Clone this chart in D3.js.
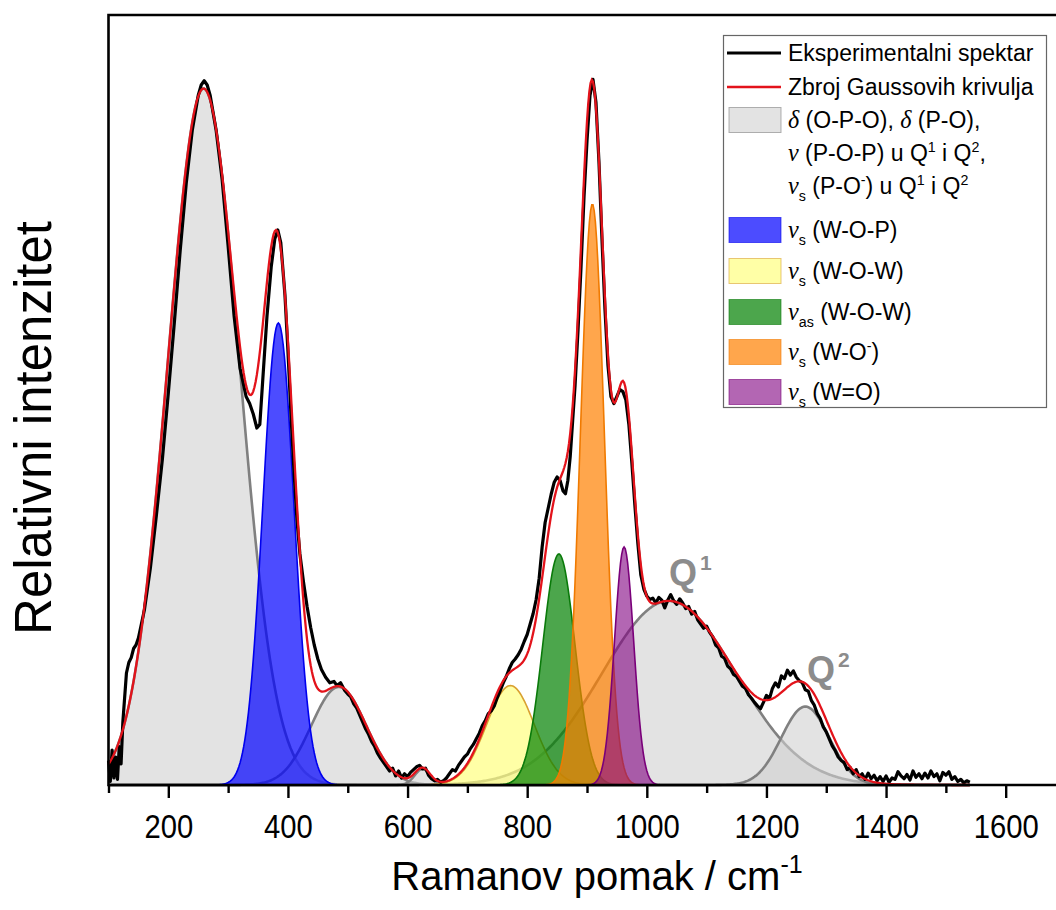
<!DOCTYPE html>
<html><head><meta charset="utf-8">
<script src="https://cdn.jsdelivr.net/npm/d3@7"></script>
<style>
body{margin:0;background:#fff}
svg{display:block}
text{font-family:"Liberation Sans", Arial, sans-serif}
</style>
</head><body>
<svg id="chart" width="1056" height="910"></svg>
<script>
// ---------------- data ----------------
const xMajorTicks = [200, 400, 600, 800, 1000, 1200, 1400, 1600];
const xMinorTicks = [100, 300, 500, 700, 900, 1100, 1300, 1500, 1700];

// Gaussian components: centre (cm-1), height (rel.), sigma (cm-1)
const peakNames   = ["G1", "WOP", "G2", "G3", "WOWs", "WOWas", "WO-", "W=O", "Q1", "Q2"];
const peakCenters = [259, 384, 485, 625, 772, 853, 909, 962, 1037, 1265];
const peakHeights = [99.5, 66, 14, 2.3, 14.2, 33, 83, 34, 26.3, 11.2];
const peakSigmas  = [60, 26, 46, 13, 40, 27, 20, 16, 112, 40];

const expShift = [100,103,106,109,112,115,118,121,124,127,130,134,138,142,146,150,155,160,170,180,190,200,210,220,230,240,250,255,260,265,270,280,290,300,310,320,330,336,342,348,353,358,365,372,378,383,388,395,400,405,410,415,420,426,432,438,444,450,456,463,470,477,482,488,495,500,505,510,515,520,525,530,535,540,545,550,555,560,565,570,575,580,585,590,595,600,605,610,615,620,625,630,635,640,645,650,655,660,665,670,675,680,685,690,695,700,705,710,715,720,725,730,735,740,745,750,755,760,765,770,775,780,785,790,795,800,805,810,815,820,825,830,835,840,845,850,855,860,864,868,872,876,880,885,890,895,900,905,910,915,920,925,930,935,940,945,950,955,960,965,970,975,980,985,990,995,1000,1005,1010,1015,1020,1025,1030,1035,1040,1045,1050,1055,1060,1065,1070,1075,1080,1085,1090,1095,1100,1105,1110,1115,1120,1125,1130,1135,1140,1145,1150,1155,1160,1165,1170,1175,1180,1185,1190,1195,1200,1205,1210,1215,1220,1225,1230,1235,1240,1245,1250,1255,1260,1265,1270,1275,1280,1285,1290,1295,1300,1305,1310,1315,1320,1325,1330,1335,1340,1345,1350,1355,1360,1365,1370,1375,1380,1385,1390,1395,1400,1405,1410,1415,1420,1425,1430,1435,1440,1445,1450,1455,1460,1465,1470,1475,1480,1485,1490,1495,1500,1505,1510,1515,1520,1525,1530,1535,1540];
const expIntensity = [3.5,0.5,5.0,1.0,4.0,0.8,5.5,3.0,9.0,12.5,16.0,17.5,18.2,19.5,20.0,21.0,23.0,25.0,31.0,38.5,46.5,56.0,66.0,76.5,86.0,93.5,98.5,100.0,100.6,100.0,98.5,93.5,86.5,77.0,67.0,59.5,55.5,54.5,53.0,51.0,51.5,58.0,67.0,74.0,78.0,79.3,77.5,70.0,62.0,53.0,45.0,38.0,33.0,29.0,25.5,22.5,20.0,18.0,16.5,15.4,14.6,14.8,14.2,14.6,13.5,13.0,12.6,11.6,11.0,10.0,9.0,8.0,7.2,6.2,5.5,4.5,3.8,3.2,2.6,2.0,2.4,1.3,2.0,1.0,1.6,1.2,1.8,2.2,2.6,2.8,2.3,2.4,1.4,0.9,0.6,0.8,0.4,0.6,1.0,1.6,2.2,2.0,2.8,3.4,4.0,4.4,5.2,5.8,6.6,7.4,8.5,9.2,10.2,10.6,11.3,12.5,13.5,14.6,15.5,16.6,17.5,18.0,18.6,19.4,20.5,21.5,23.0,24.5,26.5,29.5,34.0,37.5,39.5,41.5,43.2,44.0,43.5,42.0,41.6,43.5,47.0,52.0,57.0,65.0,74.0,84.0,92.0,98.5,100.8,97.5,89.0,78.0,68.0,60.0,55.5,54.5,55.5,56.5,56.2,55.0,51.5,46.0,40.0,34.5,30.0,28.0,27.0,26.5,26.7,26.0,26.8,26.4,25.3,26.4,27.2,26.3,25.8,26.6,26.0,25.2,25.5,24.4,24.8,23.6,23.0,22.4,22.7,21.8,21.2,20.0,19.6,18.4,18.1,17.0,16.6,15.8,15.5,14.8,14.1,13.8,12.9,12.4,11.8,11.3,10.9,11.8,12.8,12.3,13.8,14.6,14.0,15.6,15.2,16.4,15.7,16.3,15.4,14.9,14.6,13.6,13.4,12.1,11.4,10.2,9.5,8.3,7.6,6.6,5.6,4.9,4.0,3.5,3.2,2.2,2.5,1.6,2.2,1.2,1.6,0.8,1.7,0.9,1.4,0.6,1.2,0.5,1.3,0.4,1.0,0.8,1.9,1.3,0.9,1.5,0.7,2.0,1.1,1.6,0.9,1.7,1.0,2.0,1.2,1.6,0.6,1.8,1.4,1.9,0.8,1.2,0.5,0.8,0.3,0.6,0.4];

// ---------------- styles ----------------
const peakFill    = ["#d0d0d0", "#0000ff", "#d0d0d0", "#d0d0d0", "#ffff80", "#008000", "#ff8000", "#800080", "#d0d0d0", "#d0d0d0"];
const peakStroke  = ["#808080", "#0000ee", "#808080", "#808080", "#d9a030", "#0a7a0a", "#f07a00", "#7a007a", "#808080", "#808080"];
const peakOpacity = [0.6, 0.7, 0.6, 0.6, 0.7, 0.7, 0.7, 0.6, 0.6, 0.6];
const peakStrokeW = [2.6, 1.6, 2.6, 2.6, 1.6, 1.6, 1.6, 1.6, 2.6, 2.6];
const drawOrder   = [0, 2, 3, 8, 9, 1, 4, 5, 6, 7];

const svg = d3.select("#chart");
const x = d3.scaleLinear().domain([100, 1700]).range([108.5, 1065.5]);
const y = d3.scaleLinear().domain([0, 110]).range([785, 15]);

const grid = d3.range(100, 1540.01, 2);
const gauss = (i, v) => peakHeights[i] * Math.exp(-0.5 * Math.pow((v - peakCenters[i]) / peakSigmas[i], 2));
const sumAt = v => d3.sum(peakCenters, (c, i) => gauss(i, v));

const plot = svg.append("g");
const area = i => d3.area().x(d => x(d)).y0(y(0)).y1(d => y(gauss(i, d)));
const line = i => d3.line().x(d => x(d)).y(d => y(gauss(i, d)));

drawOrder.forEach(i => {
  plot.append("path").datum(grid).attr("d", area(i))
    .attr("fill", peakFill[i]).attr("fill-opacity", peakOpacity[i]);
  plot.append("path").datum(grid).attr("d", line(i))
    .attr("fill", "none").attr("stroke", peakStroke[i]).attr("stroke-width", peakStrokeW[i]);
});

// experimental
plot.append("path").datum(d3.zip(expShift, expIntensity))
  .attr("d", d3.line().x(d => x(d[0])).y(d => y(d[1])))
  .attr("fill", "none").attr("stroke", "#000").attr("stroke-width", 3.2).attr("stroke-linejoin", "round");
// sum of Gaussians
plot.append("path").datum(grid)
  .attr("d", d3.line().x(d => x(d)).y(d => y(sumAt(d))))
  .attr("fill", "none").attr("stroke", "#e3131b").attr("stroke-width", 2.3);

// Q labels
const qLab = (xx, yy, sup) => {
  const t = svg.append("text").attr("x", xx).attr("y", yy).attr("font-size", 36)
    .attr("font-weight", "bold").attr("fill", "#8c8c8c");
  t.append("tspan").text("Q");
  t.append("tspan").attr("dy", -15).attr("dx", 3).attr("font-size", 21).text(sup);
};
qLab(669, 585, "1");
qLab(807, 682, "2");

// frame
svg.append("path").attr("d", `M${x(100)},${y(0)} V15 H1065.5 V${y(0)} Z`)
  .attr("fill", "none").attr("stroke", "#000").attr("stroke-width", 2.6);

// x axis
const axMaj = d3.axisBottom(x).tickValues(xMajorTicks).tickSize(13).tickPadding(16).tickFormat(d3.format("d"));
const axMin = d3.axisBottom(x).tickValues(xMinorTicks).tickSize(8).tickFormat("");
const gMin = svg.append("g").attr("transform", `translate(0,${y(0)})`).call(axMin);
const gMaj = svg.append("g").attr("transform", `translate(0,${y(0)})`).call(axMaj);
[gMin, gMaj].forEach(g => {
  g.select(".domain").remove();
  g.selectAll(".tick line").attr("stroke", "#000").attr("stroke-width", 2.4);
});
gMaj.selectAll(".tick text").attr("font-size", 34).attr("fill", "#000")
  .attr("transform", "scale(0.86,1)")
  .attr("font-family", '"Liberation Sans", Arial, sans-serif');

// axis titles
const xt = svg.append("text").attr("x", 597).attr("y", 890).attr("text-anchor", "middle").attr("font-size", 40);
xt.append("tspan").text("Ramanov pomak / cm");
xt.append("tspan").attr("dy", -17).attr("font-size", 25).text("-1");
svg.append("text").attr("transform", "translate(51,428) rotate(-90)").attr("text-anchor", "middle")
  .attr("font-size", 51).text("Relativni intenzitet");

// ---------------- legend ----------------
const lg = svg.append("g");
lg.append("rect").attr("x", 723.5).attr("y", 35.5).attr("width", 323).attr("height", 372)
  .attr("fill", "#fff").attr("stroke", "#666").attr("stroke-width", 1.2);
const FS = 23;
function rich(yy, segs) {
  const t = lg.append("text").attr("x", 788).attr("y", yy).attr("font-size", FS);
  let cur = 0;
  segs.forEach(([s, k]) => {
    const target = k === "sub" ? FS * 0.32 : k === "sup" ? -FS * 0.4 : 0;
    const ts = t.append("tspan").attr("dy", target - cur).text(s);
    cur = target;
    if (k === "sub" || k === "sup") ts.attr("font-size", FS * 0.62);
    if (k === "g") ts.attr("font-family", '"Liberation Serif", "DejaVu Serif", serif').attr("font-style", "italic").attr("font-size", FS * 1.05);
  });
}
lg.append("line").attr("x1", 727).attr("x2", 781).attr("y1", 53).attr("y2", 53).attr("stroke", "#000").attr("stroke-width", 3.2);
lg.append("line").attr("x1", 727).attr("x2", 781).attr("y1", 87).attr("y2", 87).attr("stroke", "#e3131b").attr("stroke-width", 2.3);
const swatchRows = [[0, 120], [1, 230], [4, 271], [5, 312], [6, 352], [7, 392]];
swatchRows.forEach(([i, cy]) => {
  lg.append("rect").attr("x", 729).attr("y", cy - 12.5).attr("width", 52).attr("height", 25)
    .attr("fill", peakFill[i]).attr("fill-opacity", peakOpacity[i])
    .attr("stroke", peakStroke[i]).attr("stroke-opacity", 0.6).attr("stroke-width", 1);
});
rich(61, [["Eksperimentalni spektar", "n"]]);
rich(95, [["Zbroj Gaussovih krivulja", "n"]]);
rich(128, [["δ", "g"], [" (O-P-O), ", "n"], ["δ", "g"], [" (P-O),", "n"]]);
rich(161, [["ν", "g"], [" (P-O-P) u Q", "n"], ["1", "sup"], [" i Q", "n"], ["2", "sup"], [",", "n"]]);
rich(194, [["ν", "g"], ["s", "sub"], [" (P-O", "n"], ["-", "sup"], [") u Q", "n"], ["1", "sup"], [" i Q", "n"], ["2", "sup"]]);
rich(238, [["ν", "g"], ["s", "sub"], [" (W-O-P)", "n"]]);
rich(279, [["ν", "g"], ["s", "sub"], [" (W-O-W)", "n"]]);
rich(320, [["ν", "g"], ["as", "sub"], [" (W-O-W)", "n"]]);
rich(360, [["ν", "g"], ["s", "sub"], [" (W-O", "n"], ["-", "sup"], [")", "n"]]);
rich(400, [["ν", "g"], ["s", "sub"], [" (W=O)", "n"]]);
</script>
</body></html>
